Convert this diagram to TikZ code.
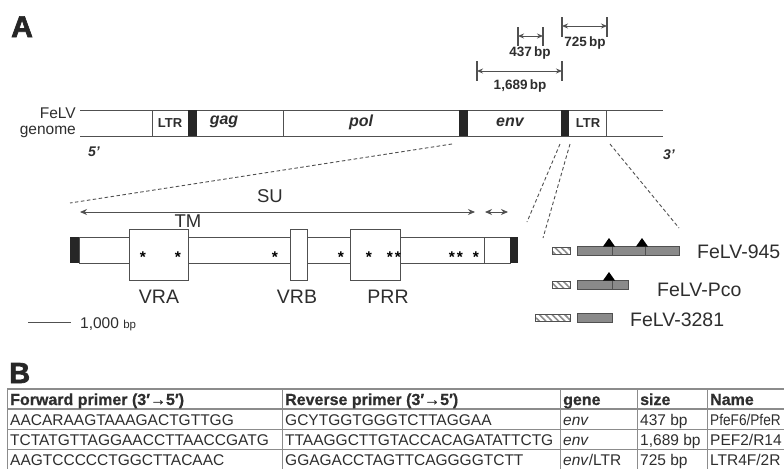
\documentclass[tikz,border=0pt]{standalone}
\usepackage{fontspec}
\setmainfont{Liberation Sans}
\newfontfamily\heavyfont[FakeBold=2.2]{Liberation Sans Bold}
\newfontfamily\headfont[FakeBold=0.6]{Liberation Sans Bold}
\usetikzlibrary{arrows.meta,patterns.meta}
\newcommand\myfs[1]{\fontsize{#1}{#1}\selectfont}
\definecolor{txt}{HTML}{2E2E2E}
\definecolor{ln}{HTML}{505050}
\definecolor{gbox}{HTML}{8A8A8A}
\definecolor{tbl}{HTML}{8C8C8C}
\tikzset{
  lbl/.style={inner sep=0pt, text=txt},
  dimarr/.style={draw=ln, line width=0.9pt, {Stealth[length=6pt,width=5pt]}-{Stealth[length=6pt,width=5pt]}},
  bigarr/.style={draw=ln, line width=0.9pt, {Stealth[length=7pt,width=6pt]}-{Stealth[length=7pt,width=6pt]}},
  dimtick/.style={draw=ln, line width=1.1pt},
  bar/.style={fill=black!85, draw=none},
  seg/.style={draw=ln, line width=0.8pt},
  cutline/.style={draw=ln, line width=0.9pt, dash pattern=on 3.5pt off 2.5pt},
  vbox/.style={draw=ln, line width=0.8pt, fill=white},
  hatchbox/.style={draw=ln, line width=0.7pt, fill=white, pattern={Lines[angle=-45, distance=4.5pt, line width=1.6pt]}, pattern color=black!45},
  graybox/.style={draw=ln, line width=0.7pt, fill=gbox},
  tri/.style={fill=black, draw=none},
  mutstar/.style={inner sep=0pt, text=black, anchor=base, font=\myfs{15.5}\bfseries},
  cell/.style={inner sep=0pt, text=txt, anchor=base west, font=\myfs{15.5}},
  hcell/.style={cell, font=\myfs{16}\headfont},
  tline/.style={draw=tbl, line width=0.8pt},
  tthick/.style={draw=tbl, line width=1.7pt}
}
\begin{document}
\begin{tikzpicture}[x=1pt,y=-1pt]
\useasboundingbox (0,0) rectangle (784,469);
\clip (0,0) rectangle (784,469);
\fill[white] (0,0) rectangle (784,469);

% panel labels
\node[lbl, anchor=base west, font=\myfs{30}\heavyfont, text=black!85] (labA) at (11,37) {A};
\node[lbl, anchor=base west, font=\myfs{29}\heavyfont, text=black!85] (labB) at (9,383) {B};

% ---------- genome ----------
\coordinate (g0t) at (80,110); \coordinate (g1t) at (663,110);
\coordinate (g0b) at (80,136); \coordinate (g1b) at (663,136);
\draw[seg] (g0t) -- (g1t);
\draw[seg] (g0b) -- (g1b);
\draw[seg] (152,110) -- (152,136);
\draw[seg] (283,110) -- (283,136);
\draw[seg] (606,110) -- (606,136);
\fill[bar] (188,110) rectangle (197,136);
\fill[bar] (459,110) rectangle (468,136);
\fill[bar] (561,110) rectangle (569,136);

\node[lbl, anchor=east, align=right, font=\myfs{15.5}, text=txt] (felv) at (76,123) {FeLV\\[1pt]genome};
\node[lbl, font=\myfs{13}\bfseries] (ltr1) at (170,123) {LTR};
\node[lbl, font=\myfs{16}\bfseries\itshape] (gag) at (224,122) {gag};
\node[lbl, font=\myfs{16}\bfseries\itshape] (pol) at (361,122) {pol};
\node[lbl, font=\myfs{16}\bfseries\itshape] (env) at (510,122) {env};
\node[lbl, font=\myfs{13}\bfseries] (ltr2) at (588,123) {LTR};
\node[lbl, font=\myfs{14}\bfseries\itshape] (p5) at (94,152) {5'};
\node[lbl, font=\myfs{14}\bfseries\itshape] (p3) at (669,155) {3'};

% ---------- dimension bars ----------
\draw[dimtick] (518,27) -- (518,46);
\draw[dimtick] (543,27) -- (543,46);
\draw[dimarr] (518,36) -- (543,36);
\node[lbl, font=\myfs{13.5}\bfseries] (d437) at (530,53) {437\,bp};

\draw[dimtick] (562,17) -- (562,37);
\draw[dimtick] (607,17) -- (607,37);
\draw[dimarr] (562,26) -- (607,26);
\node[lbl, font=\myfs{13.5}\bfseries] (d725) at (585,43) {725\,bp};

\draw[dimtick] (477,61) -- (477,81);
\draw[dimtick] (562,61) -- (562,81);
\draw[dimarr] (477,71) -- (562,71);
\node[lbl, font=\myfs{13.5}\bfseries] (d1689) at (520,86) {1,689\,bp};

% ---------- zoom (dashed) lines ----------
\coordinate (z1a) at (452,144); \coordinate (z1b) at (70,203);
\coordinate (z2a) at (560,144); \coordinate (z2b) at (527,222);
\coordinate (z3a) at (570,144); \coordinate (z3b) at (543,238);
\coordinate (z4a) at (610,144); \coordinate (z4b) at (679,228);
\draw[cutline] (z1a) -- (z1b);
\draw[cutline] (z2a) -- (z2b);
\draw[cutline] (z3a) -- (z3b);
\draw[cutline] (z4a) -- (z4b);

% ---------- env detail ----------
\coordinate (su0) at (80,212); \coordinate (su1) at (475,212);
\coordinate (tm0) at (485,212); \coordinate (tm1) at (508,212);
\draw[bigarr] (su0) -- (su1);
\draw[bigarr] (tm0) -- (tm1);
\node[lbl, font=\myfs{18.5}] (SU) at (270,196) {SU};
\node[lbl, font=\myfs{18.5}] (TM) at (188,221) {TM};

\draw[vbox] (79,237) rectangle (510,263);
\draw[seg] (484,237) -- (484,263);
\fill[bar] (70,237) rectangle (79,263);
\fill[bar] (510,237) rectangle (518,263);
\draw[vbox] (129,229) rectangle (188,280);
\draw[vbox] (290,229) rectangle (307,280);
\draw[vbox] (350,229) rectangle (400,280);
\foreach \x in {143,178,275,341,369,390,398,452,460,476}
  \node[mutstar] at (\x,262) {*};
\node[lbl, font=\myfs{19.5}] (VRA) at (159,297) {VRA};
\node[lbl, font=\myfs{19.5}] (VRB) at (297,297) {VRB};
\node[lbl, font=\myfs{19.5}] (PRR) at (388,297) {PRR};

% scale bar
\coordinate (sc0) at (28,322); \coordinate (sc1) at (71,322);
\draw[seg] (sc0) -- (sc1);
\node[lbl, anchor=base west, font=\myfs{15.5}] (scl) at (80,328) {1,000 {\myfs{11.5}bp}};

% ---------- variants ----------
\draw[hatchbox] (552,247) rectangle (570,254);
\draw[graybox] (577,246) rectangle (679,255);
\draw[seg] (612,246) -- (612,255);
\draw[seg] (645,246) -- (645,255);
\fill[tri] (603,246.5) -- (609,238) -- (615,246.5) -- cycle;
\fill[tri] (636,246.5) -- (642,238) -- (648,246.5) -- cycle;
\node[lbl, anchor=west, font=\myfs{19.5}] (v945) at (697,252) {FeLV-945};

\draw[hatchbox] (552,281) rectangle (570,288);
\draw[graybox] (577,280) rectangle (628,289);
\draw[seg] (612,280) -- (612,289);
\fill[tri] (603,280.5) -- (609,272) -- (615,280.5) -- cycle;
\node[lbl, anchor=west, font=\myfs{19.5}] (vpco) at (657,290) {FeLV-Pco};

\draw[hatchbox] (535,314) rectangle (570,321);
\draw[graybox] (577,313) rectangle (612,322);
\node[lbl, anchor=west, font=\myfs{19.5}] (v3281) at (630,320) {FeLV-3281};

% ---------- table ----------
\draw[tthick] (7,389) -- (784,389);
\draw[tthick] (7,409) -- (784,409);
\draw[tline] (7,429) -- (784,429);
\draw[tline] (7,449) -- (784,449);
\foreach \x in {7,282,560,637,707}
  \draw[tline] (\x,389) -- (\x,469);

\node[hcell] (h1) at (10,405) {Forward primer (3′→5′)};
\node[hcell] (h2) at (285,405) {Reverse primer (3′→5′)};
\node[hcell] (h3) at (563,405) {gene};
\node[hcell] (h4) at (640,405) {size};
\node[hcell] (h5) at (710,405) {Name};

\node[cell] (r1c1) at (10,425) {AACARAAGTAAAGACTGTTGG};
\node[cell] (r1c2) at (285,425) {GCYTGGTGGGTCTTAGGAA};
\node[cell] (r1c3) at (563,425) {\itshape env};
\node[cell] (r1c4) at (640,425) {437 bp};
\node[cell] (r1c5) at (710,425) {\scalebox{0.88}[1]{PfeF6/PfeR}};

\node[cell] (r2c1) at (10,445) {TCTATGTTAGGAACCTTAACCGATG};
\node[cell] (r2c2) at (285,445) {TTAAGGCTTGTACCACAGATATTCTG};
\node[cell] (r2c3) at (563,445) {\itshape env};
\node[cell] (r2c4) at (640,445) {1,689 bp};
\node[cell] (r2c5) at (710,445) {PEF2/R14};

\node[cell] (r3c1) at (10,465) {AAGTCCCCCTGGCTTACAAC};
\node[cell] (r3c2) at (285,465) {GGAGACCTAGTTCAGGGGTCTT};
\node[cell] (r3c3) at (563,465) {\textit{env}/LTR};
\node[cell] (r3c4) at (640,465) {725 bp};
\node[cell] (r3c5) at (710,465) {LTR4F/2R};
\end{tikzpicture}
\end{document}
